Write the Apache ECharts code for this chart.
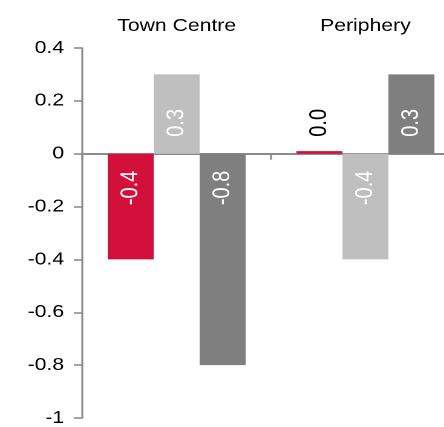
<!DOCTYPE html>
<html>
<head>
<meta charset="utf-8">
<script src="https://cdn.jsdelivr.net/npm/echarts@6/dist/echarts.min.js"></script>
<style>
  html, body { margin: 0; padding: 0; background: #fff; overflow: hidden; }
  /* chart is laid out narrower and stretched horizontally; its right edge runs past the page */
  #chart { width: 380px; height: 427px; transform: scaleX(1.21); transform-origin: 0 0; }
</style>
</head>
<body>
<div id="chart"></div>
<script>
// Groups along the x axis
const categories = ['Town Centre', 'Periphery'];

// Three series, one value per group
const seriesRed = [-0.4, 0.01];
const seriesLight = [0.3, -0.4];
const seriesDark = [-0.8, 0.3];

// Value axis range and step
const yMin = -1;
const yMax = 0.4;
const yStep = 0.2;

const FONT = 'Liberation Sans, Arial, sans-serif';

// Rotated value labels sit just off the zero line, running away from it
function makeData(values) {
  return values.map(function (v) {
    const positive = v >= 0;
    const small = Math.abs(v) < 0.05;
    return {
      value: v,
      label: {
        position: positive ? 'insideBottom' : 'insideTop',
        align: positive ? 'left' : 'right',
        color: small ? '#000' : '#fff'
      }
    };
  });
}

function barSeries(values, color) {
  return {
    type: 'bar',
    data: makeData(values),
    barWidth: 38,
    barGap: '0%',
    itemStyle: { color: color },
    label: {
      show: true,
      rotate: 90,
      verticalAlign: 'middle',
      distance: 17,
      fontSize: 20,
      fontFamily: FONT,
      formatter: function (p) { return p.value.toFixed(1); }
    }
  };
}

const chart = echarts.init(document.getElementById('chart'), null, { renderer: 'canvas', devicePixelRatio: 2 });
chart.setOption({
  animation: false,
  backgroundColor: '#fff',
  grid: { left: 68, right: 0, top: 48, bottom: 8, containLabel: false },
  xAxis: [
    {
      type: 'category',
      data: categories,
      position: 'bottom',
      axisLine: { onZero: true, lineStyle: { color: '#8c8c8c', width: 2 } },
      axisTick: { show: true, length: 6, lineStyle: { color: '#8c8c8c', width: 1.6 } },
      axisLabel: { show: false },
      splitLine: { show: false }
    },
    {
      type: 'category',
      data: categories,
      position: 'top',
      axisLine: { show: false },
      axisTick: { show: false },
      axisLabel: { show: true, fontSize: 17.5, color: '#000', fontFamily: FONT, margin: 13 },
      splitLine: { show: false }
    }
  ],
  yAxis: {
    type: 'value',
    min: yMin,
    max: yMax,
    interval: yStep,
    axisLine: { show: true, lineStyle: { color: '#8c8c8c', width: 1.6 } },
    axisTick: { show: true, length: 7, lineStyle: { color: '#8c8c8c', width: 1.6 } },
    axisLabel: { fontSize: 17.5, color: '#000', fontFamily: FONT, margin: 15 },
    splitLine: { show: false }
  },
  series: [
    barSeries(seriesRed, '#d3103c'),
    barSeries(seriesLight, '#bfbfbf'),
    barSeries(seriesDark, '#7f7f7f')
  ]
});
</script>
</body>
</html>
